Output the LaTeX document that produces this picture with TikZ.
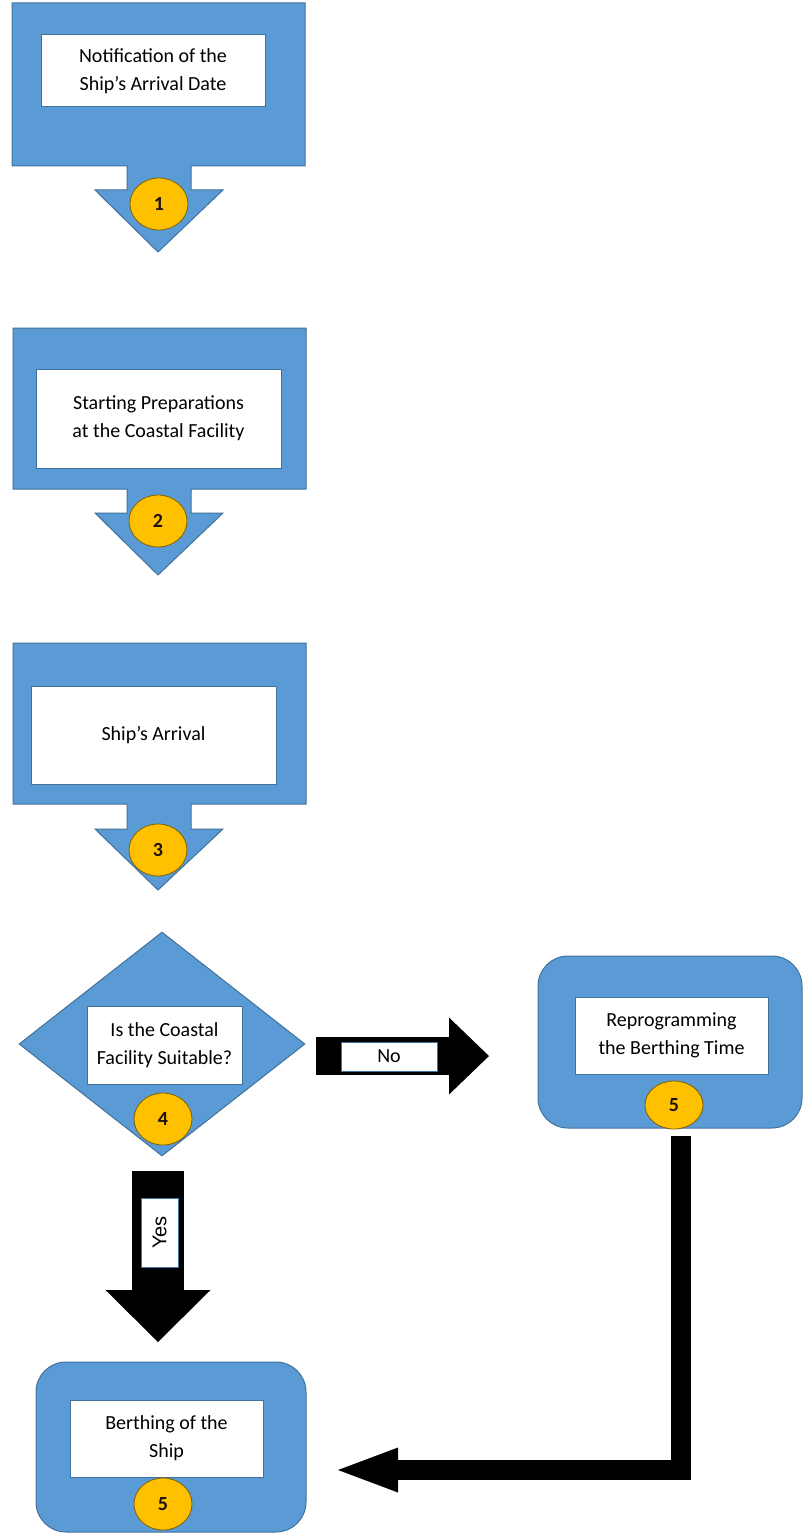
\documentclass[tikz,border=0pt]{standalone}
\usepackage{fontspec}
\setmainfont{Carlito}
\newfontfamily\yesfont{Liberation Sans}
\usetikzlibrary{shapes.geometric,arrows.meta}
\definecolor{bfill}{HTML}{5B9BD5}
\definecolor{bline}{HTML}{41719C}
\definecolor{gold}{HTML}{FFC000}
\definecolor{goldline}{HTML}{7F6000}
\begin{document}
\begin{tikzpicture}[x=1pt,y=-1pt,
  blueshape/.style={fill=bfill,draw=bline,line width=1pt},
  textbox/.style={draw=bline,fill=white,line width=1pt,inner sep=0pt,align=center,
    font=\fontsize{20}{28}\selectfont},
  numdot/.style={ellipse,fill=gold,draw=goldline,line width=0.8pt,minimum width=58pt,
    minimum height=52pt,inner sep=0pt,font=\bfseries\fontsize{20}{20}\selectfont,text=black!85!brown},
  blockarrow/.style={draw=black,line cap=butt,line join=miter}
]
\useasboundingbox (0,0) rectangle (803,1533);

% step 1
\path[blueshape] (12,3) -- (305,3) -- (305,166) -- (191,166) -- (191,190) -- (223,190)
  -- (158,252) -- (95,190) -- (127,190) -- (127,166) -- (12,166) -- cycle;
\node[textbox,minimum width=224pt,minimum height=72pt] (b1) at (153,71)
  {Notification of the\\Ship’s Arrival Date};
\node[numdot] (c1) at (159,204) {1};

% step 2
\path[blueshape] (13,328) -- (306,328) -- (306,489) -- (191,489) -- (191,513) -- (223,513)
  -- (158,575) -- (95,513) -- (127,513) -- (127,489) -- (13,489) -- cycle;
\node[textbox,minimum width=245pt,minimum height=99pt] (b2) at (158.5,418.5)
  {Starting Preparations\\at the Coastal Facility};
\node[numdot] (c2) at (158,521) {2};

% step 3
\path[blueshape] (13,643) -- (306,643) -- (306,804) -- (191,804) -- (191,829) -- (223,829)
  -- (158,890) -- (95,829) -- (127,829) -- (127,804) -- (13,804) -- cycle;
\node[textbox,minimum width=245pt,minimum height=98pt] (b3) at (153.5,735)
  {Ship’s Arrival};
\node[numdot] (c3) at (158,850) {3};

% step 4 decision
\node[diamond,blueshape,minimum width=286pt,minimum height=224pt,inner sep=0pt] (d4) at (162,1044) {};
\node[textbox,minimum width=155pt,minimum height=78pt] (b4) at (164.5,1045)
  {Is the Coastal\\Facility Suitable?};
\node[numdot] (c4) at (163,1119) {4};

% reprogramming
\draw[blueshape,rounded corners=30pt] (538,956) rectangle (802,1128);
\node[textbox,minimum width=193pt,minimum height=77pt] (b5) at (671.5,1035.5)
  {Reprogramming\\the Berthing Time};
\node[numdot,minimum height=48pt] (c5) at (674,1105) {5};

% berthing
\draw[blueshape,rounded corners=30pt] (36,1362) rectangle (306,1532);
\node[textbox,minimum width=193pt,minimum height=77pt] (b6) at (166.5,1438.5)
  {Berthing of the\\Ship};
\node[numdot] (c6) at (163,1504) {5};

% No arrow
\coordinate (ns) at (316,1056);
\coordinate (ne) at (489,1056);
\draw[blockarrow,line width=38pt,-{Triangle[length=40pt,width=77pt,line width=0pt]}] (ns) -- (ne);
\node[textbox,minimum width=96pt,minimum height=29pt] (nolab) at (389,1056.5) {No};

% Yes arrow
\coordinate (ys) at (158,1171);
\coordinate (ye) at (158,1342);
\draw[blockarrow,line width=52pt,-{Triangle[length=52pt,width=105pt,line width=0pt]}] (ys) -- (ye);
\node[textbox,rotate=90,minimum width=69pt,minimum height=37pt,
  font=\yesfont\fontsize{20}{20}\selectfont] (yeslab) at (159.5,1232.5) {Yes};

% loop arrow
\coordinate (ls) at (681,1136);
\coordinate (le) at (338,1470);
\draw[blockarrow,line width=20pt,-{Triangle[length=60pt,width=45pt,line width=0pt]}] (ls) |- (le);
\end{tikzpicture}
\end{document}
